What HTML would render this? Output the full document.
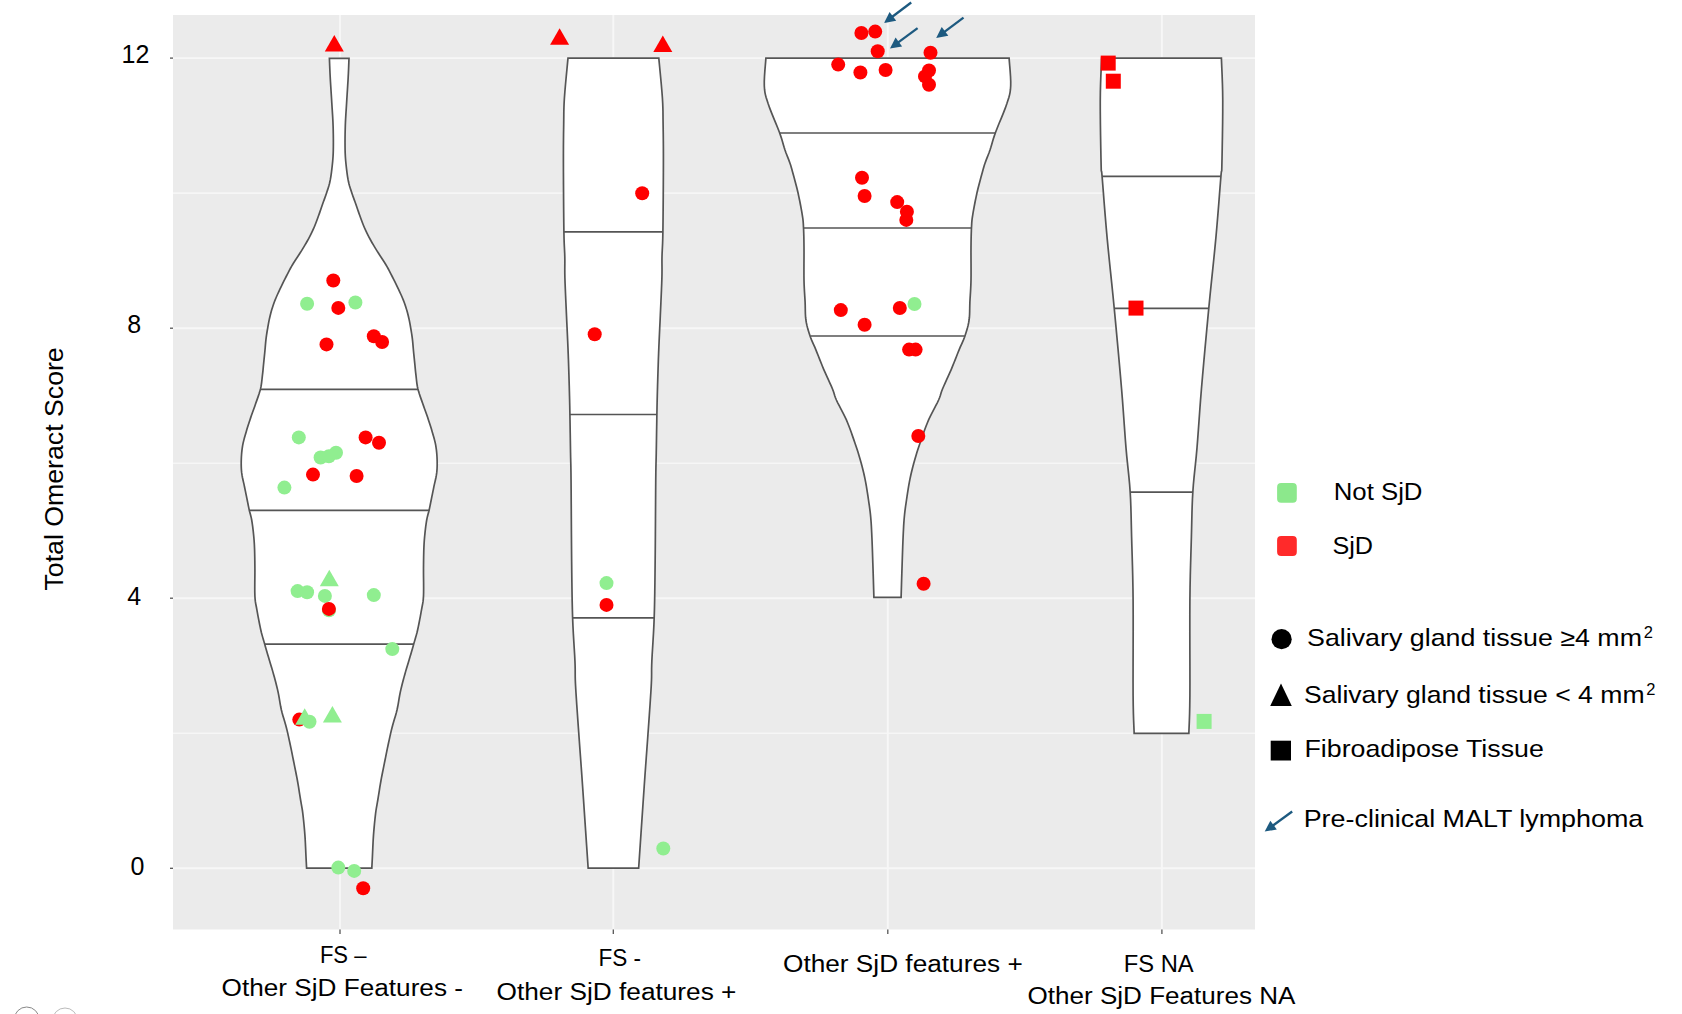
<!DOCTYPE html>
<html><head><meta charset="utf-8"><style>
html,body{margin:0;padding:0;background:#fff;width:1682px;height:1014px;overflow:hidden;}
svg{display:block;font-family:"Liberation Sans", sans-serif;}
text{fill:#000;}
</style></head><body>
<svg width="1682" height="1014" viewBox="0 0 1682 1014">
<rect x="173" y="15" width="1082" height="914.5" fill="#EBEBEB"/>
<line x1="173" y1="733.27" x2="1255" y2="733.27" stroke="#F6F6F6" stroke-width="1.6"/>
<line x1="173" y1="463.20" x2="1255" y2="463.20" stroke="#F6F6F6" stroke-width="1.6"/>
<line x1="173" y1="193.13" x2="1255" y2="193.13" stroke="#F6F6F6" stroke-width="1.6"/>
<line x1="173" y1="58.1" x2="1255" y2="58.1" stroke="#F7F7F7" stroke-width="1.9"/>
<line x1="173" y1="328.2" x2="1255" y2="328.2" stroke="#F7F7F7" stroke-width="1.9"/>
<line x1="173" y1="598.2" x2="1255" y2="598.2" stroke="#F7F7F7" stroke-width="1.9"/>
<line x1="173" y1="868.3" x2="1255" y2="868.3" stroke="#F7F7F7" stroke-width="1.9"/>
<line x1="340" y1="15" x2="340" y2="929.5" stroke="#F7F7F7" stroke-width="1.9"/>
<line x1="613.3" y1="15" x2="613.3" y2="929.5" stroke="#F7F7F7" stroke-width="1.9"/>
<line x1="887.8" y1="15" x2="887.8" y2="929.5" stroke="#F7F7F7" stroke-width="1.9"/>
<line x1="1161.9" y1="15" x2="1161.9" y2="929.5" stroke="#F7F7F7" stroke-width="1.9"/>
<line x1="170" y1="58.1" x2="173" y2="58.1" stroke="#555" stroke-width="1.3"/>
<line x1="170" y1="328.2" x2="173" y2="328.2" stroke="#555" stroke-width="1.3"/>
<line x1="170" y1="598.2" x2="173" y2="598.2" stroke="#555" stroke-width="1.3"/>
<line x1="170" y1="868.3" x2="173" y2="868.3" stroke="#555" stroke-width="1.3"/>
<line x1="340" y1="929.5" x2="340" y2="934" stroke="#555" stroke-width="1.3"/>
<line x1="613.3" y1="929.5" x2="613.3" y2="934" stroke="#555" stroke-width="1.3"/>
<line x1="887.8" y1="929.5" x2="887.8" y2="934" stroke="#555" stroke-width="1.3"/>
<line x1="1161.9" y1="929.5" x2="1161.9" y2="934" stroke="#555" stroke-width="1.3"/>
<path d="M329.40,58.30 L329.48,60.25 L329.58,62.88 L329.70,66.02 L329.84,69.53 L330.01,73.24 L330.20,77.00 L330.42,80.95 L330.69,85.24 L330.97,89.73 L331.26,94.29 L331.54,98.76 L331.80,103.00 L332.05,107.00 L332.30,110.85 L332.54,114.62 L332.76,118.37 L332.95,122.14 L333.10,126.00 L333.21,130.03 L333.30,134.22 L333.35,138.44 L333.37,142.56 L333.35,146.45 L333.30,150.00 L333.21,153.13 L333.07,155.93 L332.91,158.51 L332.70,160.98 L332.47,163.44 L332.20,166.00 L331.90,168.69 L331.57,171.43 L331.21,174.16 L330.81,176.83 L330.37,179.39 L329.90,181.80 L329.38,184.01 L328.82,186.06 L328.22,188.00 L327.59,189.89 L326.95,191.77 L326.30,193.70 L325.63,195.67 L324.94,197.64 L324.23,199.61 L323.51,201.57 L322.80,203.53 L322.10,205.50 L321.42,207.47 L320.75,209.43 L320.08,211.39 L319.41,213.36 L318.72,215.33 L318.00,217.30 L317.27,219.28 L316.53,221.26 L315.77,223.25 L314.99,225.24 L314.17,227.22 L313.30,229.20 L312.39,231.17 L311.44,233.14 L310.45,235.11 L309.43,237.07 L308.38,239.03 L307.30,241.00 L306.19,242.97 L305.04,244.93 L303.86,246.89 L302.65,248.86 L301.43,250.83 L300.20,252.80 L298.94,254.78 L297.63,256.76 L296.30,258.75 L294.99,260.74 L293.71,262.72 L292.50,264.70 L291.38,266.63 L290.34,268.51 L289.34,270.39 L288.34,272.31 L287.30,274.33 L286.20,276.50 L284.99,278.89 L283.70,281.47 L282.37,284.14 L281.06,286.82 L279.82,289.41 L278.70,291.80 L277.70,293.98 L276.79,296.02 L275.95,297.97 L275.16,299.87 L274.42,301.76 L273.70,303.70 L273.02,305.67 L272.38,307.64 L271.79,309.61 L271.23,311.57 L270.70,313.53 L270.20,315.50 L269.73,317.47 L269.30,319.43 L268.89,321.39 L268.51,323.36 L268.15,325.33 L267.80,327.30 L267.46,329.28 L267.13,331.26 L266.82,333.25 L266.53,335.24 L266.25,337.22 L266.00,339.20 L265.78,341.17 L265.59,343.14 L265.41,345.11 L265.25,347.07 L265.08,349.03 L264.90,351.00 L264.71,352.97 L264.51,354.93 L264.31,356.89 L264.10,358.86 L263.90,360.83 L263.70,362.80 L263.51,364.75 L263.33,366.67 L263.15,368.60 L262.96,370.56 L262.75,372.58 L262.50,374.70 L262.25,376.93 L262.00,379.24 L261.73,381.61 L261.41,384.03 L261.01,386.47 L260.50,388.90 L259.85,391.36 L259.08,393.86 L258.23,396.37 L257.34,398.89 L256.45,401.37 L255.60,403.80 L254.78,406.16 L253.95,408.48 L253.12,410.77 L252.30,413.04 L251.49,415.31 L250.70,417.60 L249.93,419.90 L249.17,422.20 L248.42,424.50 L247.69,426.80 L246.98,429.10 L246.30,431.40 L245.63,433.70 L244.96,436.00 L244.31,438.29 L243.71,440.59 L243.16,442.89 L242.70,445.20 L242.32,447.51 L242.00,449.83 L241.75,452.15 L241.55,454.47 L241.40,456.79 L241.30,459.10 L241.23,461.41 L241.21,463.71 L241.24,466.01 L241.32,468.30 L241.47,470.60 L241.70,472.90 L242.03,475.20 L242.46,477.50 L242.95,479.80 L243.48,482.10 L244.01,484.40 L244.50,486.70 L244.98,489.05 L245.46,491.45 L245.95,493.86 L246.43,496.20 L246.88,498.44 L247.30,500.50 L247.68,502.35 L248.01,504.03 L248.32,505.60 L248.63,507.11 L248.95,508.62 L249.30,510.20 L249.68,511.78 L250.09,513.31 L250.51,514.84 L250.93,516.43 L251.33,518.13 L251.70,520.00 L252.04,522.07 L252.37,524.30 L252.69,526.65 L252.98,529.05 L253.25,531.45 L253.50,533.80 L253.72,536.02 L253.91,538.14 L254.09,540.27 L254.24,542.49 L254.38,544.90 L254.50,547.60 L254.61,550.57 L254.69,553.73 L254.76,557.08 L254.82,560.63 L254.86,564.37 L254.90,568.30 L254.90,572.67 L254.86,577.53 L254.80,582.58 L254.77,587.54 L254.79,592.11 L254.90,596.00 L255.10,599.03 L255.35,601.39 L255.66,603.37 L256.02,605.24 L256.43,607.29 L256.90,609.80 L257.44,612.87 L258.06,616.30 L258.74,619.90 L259.44,623.50 L260.13,626.93 L260.80,630.00 L261.44,632.68 L262.08,635.11 L262.71,637.36 L263.34,639.51 L263.97,641.63 L264.60,643.80 L265.20,645.93 L265.78,647.96 L266.36,649.95 L266.95,652.00 L267.59,654.19 L268.30,656.60 L269.10,659.28 L269.98,662.17 L270.90,665.19 L271.83,668.29 L272.74,671.38 L273.60,674.40 L274.41,677.35 L275.20,680.30 L275.98,683.24 L276.72,686.19 L277.43,689.14 L278.10,692.10 L278.70,695.07 L279.23,698.06 L279.72,701.05 L280.22,704.04 L280.77,707.03 L281.40,710.00 L282.15,712.96 L282.98,715.91 L283.86,718.86 L284.74,721.80 L285.60,724.75 L286.40,727.70 L287.13,730.66 L287.82,733.63 L288.49,736.60 L289.13,739.57 L289.77,742.54 L290.40,745.50 L291.02,748.45 L291.63,751.40 L292.23,754.35 L292.82,757.30 L293.41,760.25 L294.00,763.20 L294.59,766.15 L295.19,769.08 L295.78,772.02 L296.37,774.97 L296.94,777.96 L297.50,781.00 L298.05,784.16 L298.60,787.45 L299.13,790.78 L299.65,794.04 L300.14,797.14 L300.60,800.00 L301.02,802.46 L301.40,804.57 L301.76,806.53 L302.11,808.53 L302.45,810.75 L302.80,813.40 L303.17,816.54 L303.54,820.02 L303.92,823.73 L304.28,827.56 L304.61,831.39 L304.90,835.10 L305.15,838.84 L305.36,842.71 L305.54,846.59 L305.71,850.33 L305.86,853.78 L306.00,856.80 L306.14,859.43 L306.26,861.79 L306.37,863.86 L306.46,865.63 L306.54,867.08 L306.60,868.20 L371.80,868.20 L371.86,867.08 L371.94,865.63 L372.03,863.86 L372.14,861.79 L372.26,859.43 L372.40,856.80 L372.54,853.78 L372.69,850.33 L372.86,846.59 L373.04,842.71 L373.25,838.84 L373.50,835.10 L373.79,831.39 L374.12,827.56 L374.48,823.73 L374.86,820.02 L375.23,816.54 L375.60,813.40 L375.95,810.75 L376.29,808.53 L376.64,806.53 L377.00,804.57 L377.38,802.46 L377.80,800.00 L378.26,797.14 L378.75,794.04 L379.27,790.78 L379.80,787.45 L380.35,784.16 L380.90,781.00 L381.46,777.96 L382.03,774.97 L382.62,772.02 L383.21,769.08 L383.81,766.15 L384.40,763.20 L384.99,760.25 L385.58,757.30 L386.17,754.35 L386.77,751.40 L387.38,748.45 L388.00,745.50 L388.63,742.54 L389.27,739.57 L389.91,736.60 L390.58,733.63 L391.27,730.66 L392.00,727.70 L392.80,724.75 L393.66,721.80 L394.54,718.86 L395.42,715.91 L396.25,712.96 L397.00,710.00 L397.63,707.03 L398.18,704.04 L398.68,701.05 L399.17,698.06 L399.70,695.07 L400.30,692.10 L400.97,689.14 L401.68,686.19 L402.42,683.24 L403.20,680.30 L403.99,677.35 L404.80,674.40 L405.66,671.38 L406.57,668.29 L407.50,665.19 L408.42,662.17 L409.30,659.28 L410.10,656.60 L410.81,654.19 L411.45,652.00 L412.04,649.95 L412.62,647.96 L413.20,645.93 L413.80,643.80 L414.43,641.63 L415.06,639.51 L415.69,637.36 L416.32,635.11 L416.96,632.68 L417.60,630.00 L418.27,626.93 L418.96,623.50 L419.66,619.90 L420.34,616.30 L420.96,612.87 L421.50,609.80 L421.97,607.29 L422.38,605.24 L422.74,603.37 L423.05,601.39 L423.30,599.03 L423.50,596.00 L423.61,592.11 L423.63,587.54 L423.60,582.58 L423.54,577.53 L423.50,572.67 L423.50,568.30 L423.54,564.37 L423.58,560.63 L423.64,557.08 L423.71,553.73 L423.79,550.57 L423.90,547.60 L424.02,544.90 L424.16,542.49 L424.31,540.27 L424.49,538.14 L424.68,536.02 L424.90,533.80 L425.15,531.45 L425.42,529.05 L425.71,526.65 L426.03,524.30 L426.36,522.07 L426.70,520.00 L427.07,518.13 L427.47,516.43 L427.89,514.84 L428.31,513.31 L428.72,511.78 L429.10,510.20 L429.45,508.62 L429.77,507.11 L430.07,505.60 L430.39,504.03 L430.72,502.35 L431.10,500.50 L431.52,498.44 L431.97,496.20 L432.45,493.86 L432.94,491.45 L433.42,489.05 L433.90,486.70 L434.39,484.40 L434.92,482.10 L435.45,479.80 L435.94,477.50 L436.37,475.20 L436.70,472.90 L436.93,470.60 L437.08,468.30 L437.16,466.01 L437.19,463.71 L437.17,461.41 L437.10,459.10 L437.00,456.79 L436.85,454.47 L436.65,452.15 L436.40,449.83 L436.08,447.51 L435.70,445.20 L435.24,442.89 L434.69,440.59 L434.09,438.29 L433.44,436.00 L432.77,433.70 L432.10,431.40 L431.42,429.10 L430.71,426.80 L429.98,424.50 L429.23,422.20 L428.47,419.90 L427.70,417.60 L426.91,415.31 L426.10,413.04 L425.28,410.77 L424.45,408.48 L423.62,406.16 L422.80,403.80 L421.95,401.37 L421.06,398.89 L420.17,396.37 L419.32,393.86 L418.55,391.36 L417.90,388.90 L417.39,386.47 L416.99,384.03 L416.67,381.61 L416.40,379.24 L416.15,376.93 L415.90,374.70 L415.65,372.58 L415.44,370.56 L415.25,368.60 L415.07,366.67 L414.89,364.75 L414.70,362.80 L414.50,360.83 L414.30,358.86 L414.09,356.89 L413.89,354.93 L413.69,352.97 L413.50,351.00 L413.32,349.03 L413.15,347.07 L412.99,345.11 L412.81,343.14 L412.62,341.17 L412.40,339.20 L412.15,337.22 L411.87,335.24 L411.58,333.25 L411.27,331.26 L410.94,329.28 L410.60,327.30 L410.25,325.33 L409.89,323.36 L409.51,321.39 L409.10,319.43 L408.67,317.47 L408.20,315.50 L407.70,313.53 L407.17,311.57 L406.61,309.61 L406.02,307.64 L405.38,305.67 L404.70,303.70 L403.98,301.76 L403.24,299.87 L402.45,297.97 L401.61,296.02 L400.70,293.98 L399.70,291.80 L398.58,289.41 L397.34,286.82 L396.03,284.14 L394.70,281.47 L393.41,278.89 L392.20,276.50 L391.10,274.33 L390.06,272.31 L389.06,270.39 L388.06,268.51 L387.02,266.63 L385.90,264.70 L384.69,262.72 L383.41,260.74 L382.10,258.75 L380.77,256.76 L379.46,254.78 L378.20,252.80 L376.97,250.83 L375.75,248.86 L374.54,246.89 L373.36,244.93 L372.21,242.97 L371.10,241.00 L370.02,239.03 L368.97,237.07 L367.95,235.11 L366.96,233.14 L366.01,231.17 L365.10,229.20 L364.23,227.22 L363.41,225.24 L362.63,223.25 L361.87,221.26 L361.13,219.28 L360.40,217.30 L359.68,215.33 L358.99,213.36 L358.32,211.39 L357.65,209.43 L356.98,207.47 L356.30,205.50 L355.60,203.53 L354.89,201.57 L354.17,199.61 L353.46,197.64 L352.77,195.67 L352.10,193.70 L351.45,191.77 L350.81,189.89 L350.18,188.00 L349.58,186.06 L349.02,184.01 L348.50,181.80 L348.03,179.39 L347.59,176.83 L347.19,174.16 L346.83,171.43 L346.50,168.69 L346.20,166.00 L345.93,163.44 L345.70,160.98 L345.49,158.51 L345.33,155.93 L345.19,153.13 L345.10,150.00 L345.05,146.45 L345.03,142.56 L345.05,138.44 L345.10,134.22 L345.19,130.03 L345.30,126.00 L345.45,122.14 L345.64,118.37 L345.86,114.62 L346.10,110.85 L346.35,107.00 L346.60,103.00 L346.86,98.76 L347.14,94.29 L347.43,89.73 L347.71,85.24 L347.98,80.95 L348.20,77.00 L348.39,73.24 L348.56,69.53 L348.70,66.02 L348.82,62.88 L348.92,60.25 L349.00,58.30 Z" fill="#FFFFFF" stroke="#555555" stroke-width="1.7" stroke-linejoin="miter"/>
<line x1="260.37" y1="389.3" x2="418.03" y2="389.3" stroke="#555555" stroke-width="1.7"/>
<line x1="249.32" y1="510.3" x2="429.08" y2="510.3" stroke="#555555" stroke-width="1.7"/>
<line x1="264.72" y1="644.2" x2="413.68" y2="644.2" stroke="#555555" stroke-width="1.7"/>
<path d="M568.00,58.20 L567.57,62.69 L566.96,69.03 L566.24,76.48 L565.52,84.28 L564.87,91.70 L564.40,98.00 L564.11,102.99 L563.94,107.24 L563.84,111.11 L563.80,114.96 L563.76,119.13 L563.70,124.00 L563.62,129.28 L563.54,134.61 L563.48,140.29 L563.43,146.56 L563.40,153.71 L563.40,162.00 L563.43,172.26 L563.49,184.44 L563.57,197.49 L563.67,210.37 L563.78,222.02 L563.90,231.40 L564.04,238.22 L564.20,243.25 L564.38,247.06 L564.54,250.20 L564.69,253.23 L564.80,256.70 L564.85,260.28 L564.84,263.46 L564.81,266.52 L564.79,269.76 L564.81,273.45 L564.90,277.90 L565.08,283.24 L565.32,289.27 L565.60,295.76 L565.90,302.48 L566.21,309.20 L566.50,315.70 L566.78,322.01 L567.08,328.33 L567.38,334.64 L567.67,340.96 L567.94,347.28 L568.20,353.60 L568.44,360.09 L568.66,366.80 L568.88,373.51 L569.07,380.01 L569.25,386.07 L569.40,391.50 L569.52,395.95 L569.61,399.53 L569.68,402.68 L569.75,405.85 L569.82,409.47 L569.90,414.00 L570.00,419.68 L570.11,426.22 L570.23,433.22 L570.34,440.28 L570.45,447.00 L570.55,453.00 L570.64,457.56 L570.72,460.86 L570.80,463.82 L570.88,467.39 L570.96,472.47 L571.05,480.00 L571.14,490.77 L571.23,504.18 L571.32,519.11 L571.42,534.44 L571.53,549.05 L571.65,561.80 L571.77,572.72 L571.89,582.72 L572.02,591.99 L572.17,600.73 L572.36,609.13 L572.60,617.40 L572.93,625.65 L573.35,633.73 L573.81,641.49 L574.26,648.73 L574.66,655.30 L574.95,661.00 L575.11,665.58 L575.19,669.12 L575.20,671.98 L575.20,674.50 L575.22,677.06 L575.30,680.00 L575.43,683.11 L575.58,686.06 L575.75,689.04 L575.94,692.23 L576.18,695.82 L576.45,700.00 L576.76,704.70 L577.11,709.74 L577.49,715.19 L577.90,721.09 L578.36,727.48 L578.85,734.40 L579.38,741.72 L579.93,749.36 L580.53,757.49 L581.17,766.29 L581.86,775.90 L582.60,786.50 L583.49,799.35 L584.52,814.57 L585.61,830.61 L586.64,845.92 L587.53,858.97 L588.15,868.20 L638.65,868.20 L639.27,858.97 L640.16,845.92 L641.19,830.61 L642.28,814.57 L643.31,799.35 L644.20,786.50 L644.94,775.90 L645.63,766.29 L646.27,757.49 L646.87,749.36 L647.42,741.72 L647.95,734.40 L648.44,727.48 L648.90,721.09 L649.31,715.19 L649.69,709.74 L650.04,704.70 L650.35,700.00 L650.62,695.82 L650.86,692.23 L651.05,689.04 L651.22,686.06 L651.37,683.11 L651.50,680.00 L651.58,677.06 L651.60,674.50 L651.60,671.98 L651.61,669.12 L651.69,665.58 L651.85,661.00 L652.14,655.30 L652.54,648.73 L652.99,641.49 L653.45,633.73 L653.87,625.65 L654.20,617.40 L654.44,609.13 L654.63,600.73 L654.78,591.99 L654.91,582.72 L655.03,572.72 L655.15,561.80 L655.27,549.05 L655.38,534.44 L655.48,519.11 L655.57,504.18 L655.66,490.77 L655.75,480.00 L655.84,472.47 L655.92,467.39 L656.00,463.82 L656.08,460.86 L656.16,457.56 L656.25,453.00 L656.35,447.00 L656.46,440.28 L656.57,433.22 L656.69,426.22 L656.80,419.68 L656.90,414.00 L656.98,409.47 L657.05,405.85 L657.12,402.68 L657.19,399.53 L657.28,395.95 L657.40,391.50 L657.55,386.07 L657.73,380.01 L657.92,373.51 L658.14,366.80 L658.36,360.09 L658.60,353.60 L658.86,347.28 L659.13,340.96 L659.42,334.64 L659.72,328.33 L660.02,322.01 L660.30,315.70 L660.59,309.20 L660.90,302.48 L661.20,295.76 L661.48,289.27 L661.72,283.24 L661.90,277.90 L661.99,273.45 L662.01,269.76 L661.99,266.52 L661.96,263.46 L661.95,260.28 L662.00,256.70 L662.11,253.23 L662.26,250.20 L662.42,247.06 L662.60,243.25 L662.76,238.22 L662.90,231.40 L663.02,222.02 L663.13,210.37 L663.23,197.49 L663.31,184.44 L663.37,172.26 L663.40,162.00 L663.40,153.71 L663.37,146.56 L663.32,140.29 L663.26,134.61 L663.18,129.28 L663.10,124.00 L663.04,119.13 L663.00,114.96 L662.96,111.11 L662.86,107.24 L662.69,102.99 L662.40,98.00 L661.93,91.70 L661.28,84.28 L660.56,76.48 L659.84,69.03 L659.23,62.69 L658.80,58.20 Z" fill="#FFFFFF" stroke="#555555" stroke-width="1.7" stroke-linejoin="miter"/>
<line x1="563.92" y1="231.9" x2="662.88" y2="231.9" stroke="#555555" stroke-width="1.7"/>
<line x1="569.91" y1="414.5" x2="656.89" y2="414.5" stroke="#555555" stroke-width="1.7"/>
<line x1="572.63" y1="617.9" x2="654.17" y2="617.9" stroke="#555555" stroke-width="1.7"/>
<path d="M765.90,58.20 L765.66,61.32 L765.29,65.72 L764.86,70.89 L764.49,76.30 L764.27,81.45 L764.30,85.80 L764.53,89.21 L764.89,92.05 L765.39,94.62 L766.07,97.21 L766.96,100.10 L768.10,103.60 L769.63,107.91 L771.56,112.83 L773.69,118.07 L775.86,123.30 L777.85,128.21 L779.50,132.50 L780.77,136.13 L781.80,139.36 L782.66,142.26 L783.44,144.94 L784.19,147.49 L785.00,150.00 L785.86,152.44 L786.73,154.73 L787.58,156.88 L788.38,158.92 L789.13,160.85 L789.80,162.70 L790.34,164.27 L790.75,165.53 L791.11,166.68 L791.47,167.94 L791.91,169.54 L792.50,171.70 L793.27,174.50 L794.17,177.79 L795.15,181.42 L796.15,185.23 L797.12,189.07 L798.00,192.80 L798.82,196.56 L799.64,200.51 L800.42,204.49 L801.14,208.36 L801.78,211.94 L802.30,215.10 L802.69,217.65 L802.96,219.68 L803.14,221.44 L803.27,223.16 L803.38,225.10 L803.50,227.50 L803.63,230.26 L803.74,233.17 L803.83,236.29 L803.90,239.69 L803.95,243.44 L804.00,247.60 L804.02,252.44 L804.00,257.94 L803.96,263.80 L803.94,269.68 L803.94,275.25 L804.00,280.20 L804.12,284.49 L804.30,288.37 L804.50,291.96 L804.71,295.34 L804.92,298.62 L805.10,301.90 L805.21,305.16 L805.27,308.30 L805.32,311.34 L805.41,314.29 L805.58,317.18 L805.90,320.00 L806.36,322.75 L806.93,325.41 L807.58,328.00 L808.31,330.53 L809.09,333.03 L809.90,335.50 L810.75,337.87 L811.65,340.10 L812.61,342.29 L813.61,344.54 L814.68,346.94 L815.80,349.60 L816.99,352.56 L818.25,355.75 L819.57,359.10 L820.93,362.53 L822.31,365.95 L823.70,369.30 L825.17,372.68 L826.75,376.19 L828.35,379.69 L829.90,383.08 L831.31,386.22 L832.50,389.00 L833.36,391.24 L833.94,392.99 L834.38,394.50 L834.84,396.01 L835.46,397.76 L836.40,400.00 L837.73,402.78 L839.35,405.92 L841.13,409.31 L842.96,412.81 L844.73,416.32 L846.30,419.70 L847.69,422.98 L848.99,426.26 L850.22,429.54 L851.40,432.83 L852.55,436.11 L853.70,439.40 L854.84,442.70 L855.96,446.00 L857.06,449.30 L858.11,452.60 L859.13,455.90 L860.10,459.20 L861.02,462.47 L861.90,465.72 L862.73,468.97 L863.53,472.23 L864.28,475.54 L865.00,478.90 L865.68,482.38 L866.32,485.97 L866.92,489.61 L867.48,493.20 L868.01,496.69 L868.50,500.00 L868.95,503.06 L869.37,505.91 L869.74,508.66 L870.09,511.40 L870.41,514.21 L870.70,517.20 L870.96,520.26 L871.18,523.29 L871.37,526.40 L871.54,529.70 L871.72,533.30 L871.90,537.30 L872.09,541.83 L872.28,546.83 L872.47,552.13 L872.65,557.56 L872.83,562.94 L873.00,568.10 L873.17,573.40 L873.35,579.03 L873.52,584.62 L873.67,589.79 L873.80,594.14 L873.90,597.30 L901.10,597.30 L901.20,594.14 L901.33,589.79 L901.48,584.62 L901.65,579.03 L901.83,573.40 L902.00,568.10 L902.17,562.94 L902.35,557.56 L902.53,552.13 L902.72,546.83 L902.91,541.83 L903.10,537.30 L903.28,533.30 L903.46,529.70 L903.63,526.40 L903.82,523.29 L904.04,520.26 L904.30,517.20 L904.59,514.21 L904.91,511.40 L905.26,508.66 L905.63,505.91 L906.05,503.06 L906.50,500.00 L906.99,496.69 L907.52,493.20 L908.08,489.61 L908.68,485.97 L909.32,482.38 L910.00,478.90 L910.72,475.54 L911.47,472.23 L912.27,468.97 L913.10,465.72 L913.98,462.47 L914.90,459.20 L915.87,455.90 L916.89,452.60 L917.94,449.30 L919.04,446.00 L920.16,442.70 L921.30,439.40 L922.45,436.11 L923.60,432.83 L924.78,429.54 L926.01,426.26 L927.31,422.98 L928.70,419.70 L930.27,416.32 L932.04,412.81 L933.87,409.31 L935.65,405.92 L937.27,402.78 L938.60,400.00 L939.54,397.76 L940.16,396.01 L940.62,394.50 L941.06,392.99 L941.64,391.24 L942.50,389.00 L943.69,386.22 L945.10,383.08 L946.65,379.69 L948.25,376.19 L949.83,372.68 L951.30,369.30 L952.69,365.95 L954.07,362.53 L955.43,359.10 L956.75,355.75 L958.01,352.56 L959.20,349.60 L960.32,346.94 L961.39,344.54 L962.39,342.29 L963.35,340.10 L964.25,337.87 L965.10,335.50 L965.91,333.03 L966.69,330.53 L967.42,328.00 L968.07,325.41 L968.64,322.75 L969.10,320.00 L969.42,317.18 L969.59,314.29 L969.68,311.34 L969.73,308.30 L969.79,305.16 L969.90,301.90 L970.08,298.62 L970.29,295.34 L970.50,291.96 L970.70,288.37 L970.88,284.49 L971.00,280.20 L971.06,275.25 L971.06,269.68 L971.04,263.80 L971.00,257.94 L970.98,252.44 L971.00,247.60 L971.05,243.44 L971.10,239.69 L971.17,236.29 L971.26,233.17 L971.37,230.26 L971.50,227.50 L971.62,225.10 L971.73,223.16 L971.86,221.44 L972.04,219.68 L972.31,217.65 L972.70,215.10 L973.22,211.94 L973.86,208.36 L974.58,204.49 L975.36,200.51 L976.18,196.56 L977.00,192.80 L977.88,189.07 L978.85,185.23 L979.85,181.42 L980.83,177.79 L981.73,174.50 L982.50,171.70 L983.09,169.54 L983.53,167.94 L983.89,166.68 L984.25,165.53 L984.66,164.27 L985.20,162.70 L985.87,160.85 L986.62,158.92 L987.42,156.88 L988.27,154.73 L989.14,152.44 L990.00,150.00 L990.81,147.49 L991.56,144.94 L992.34,142.26 L993.20,139.36 L994.23,136.13 L995.50,132.50 L997.15,128.21 L999.14,123.30 L1001.31,118.07 L1003.44,112.83 L1005.37,107.91 L1006.90,103.60 L1008.04,100.10 L1008.93,97.21 L1009.61,94.62 L1010.11,92.05 L1010.47,89.21 L1010.70,85.80 L1010.73,81.45 L1010.51,76.30 L1010.14,70.89 L1009.71,65.72 L1009.34,61.32 L1009.10,58.20 Z" fill="#FFFFFF" stroke="#555555" stroke-width="1.7" stroke-linejoin="miter"/>
<line x1="779.66" y1="133.0" x2="995.34" y2="133.0" stroke="#555555" stroke-width="1.7"/>
<line x1="803.51" y1="228.0" x2="971.49" y2="228.0" stroke="#555555" stroke-width="1.7"/>
<line x1="810.11" y1="336.0" x2="964.89" y2="336.0" stroke="#555555" stroke-width="1.7"/>
<path d="M1101.60,58.20 L1101.43,62.60 L1101.17,68.47 L1100.87,75.54 L1100.58,83.50 L1100.36,92.09 L1100.25,101.00 L1100.27,111.19 L1100.38,123.06 L1100.56,135.56 L1100.77,147.59 L1100.97,158.10 L1101.15,166.00 L1101.25,170.24 L1101.30,171.48 L1101.34,171.19 L1101.45,170.84 L1101.66,171.92 L1102.05,175.90 L1102.62,183.02 L1103.34,192.16 L1104.16,202.72 L1105.08,214.12 L1106.05,225.77 L1107.05,237.10 L1108.11,248.17 L1109.25,259.48 L1110.45,271.04 L1111.68,282.89 L1112.92,295.03 L1114.15,307.50 L1115.40,320.68 L1116.70,334.61 L1118.02,348.86 L1119.29,362.94 L1120.48,376.41 L1121.55,388.80 L1122.47,400.11 L1123.26,410.71 L1123.98,420.69 L1124.65,430.16 L1125.31,439.19 L1126.00,447.90 L1126.74,456.07 L1127.51,463.59 L1128.26,470.68 L1128.98,477.58 L1129.62,484.51 L1130.15,491.70 L1130.55,498.92 L1130.83,505.93 L1131.04,512.98 L1131.21,520.30 L1131.39,528.13 L1131.60,536.70 L1131.86,545.82 L1132.15,555.26 L1132.44,565.20 L1132.71,575.84 L1132.94,587.38 L1133.10,600.00 L1133.17,614.71 L1133.17,631.55 L1133.13,649.29 L1133.08,666.67 L1133.06,682.46 L1133.10,695.40 L1133.23,705.48 L1133.41,713.70 L1133.62,720.31 L1133.84,725.60 L1134.02,729.84 L1134.15,733.30 L1188.85,733.30 L1188.98,729.84 L1189.16,725.60 L1189.38,720.31 L1189.59,713.70 L1189.77,705.48 L1189.90,695.40 L1189.94,682.46 L1189.92,666.67 L1189.87,649.29 L1189.83,631.55 L1189.83,614.71 L1189.90,600.00 L1190.06,587.38 L1190.29,575.84 L1190.56,565.20 L1190.85,555.26 L1191.14,545.82 L1191.40,536.70 L1191.61,528.13 L1191.79,520.30 L1191.96,512.98 L1192.17,505.93 L1192.45,498.92 L1192.85,491.70 L1193.38,484.51 L1194.02,477.58 L1194.74,470.68 L1195.49,463.59 L1196.26,456.07 L1197.00,447.90 L1197.69,439.19 L1198.35,430.16 L1199.02,420.69 L1199.74,410.71 L1200.53,400.11 L1201.45,388.80 L1202.52,376.41 L1203.71,362.94 L1204.98,348.86 L1206.30,334.61 L1207.60,320.68 L1208.85,307.50 L1210.08,295.03 L1211.32,282.89 L1212.55,271.04 L1213.75,259.48 L1214.89,248.17 L1215.95,237.10 L1216.95,225.77 L1217.92,214.12 L1218.84,202.72 L1219.66,192.16 L1220.38,183.02 L1220.95,175.90 L1221.34,171.92 L1221.55,170.84 L1221.66,171.19 L1221.70,171.48 L1221.75,170.24 L1221.85,166.00 L1222.03,158.10 L1222.23,147.59 L1222.44,135.56 L1222.62,123.06 L1222.73,111.19 L1222.75,101.00 L1222.64,92.09 L1222.42,83.50 L1222.13,75.54 L1221.83,68.47 L1221.57,62.60 L1221.40,58.20 Z" fill="#FFFFFF" stroke="#555555" stroke-width="1.7" stroke-linejoin="miter"/>
<line x1="1102.09" y1="176.4" x2="1220.91" y2="176.4" stroke="#555555" stroke-width="1.7"/>
<line x1="1114.22" y1="308.3" x2="1208.78" y2="308.3" stroke="#555555" stroke-width="1.7"/>
<line x1="1130.17" y1="492.2" x2="1192.83" y2="492.2" stroke="#555555" stroke-width="1.7"/>
<polygon points="334.30,34.95 343.80,51.45 324.80,51.45" fill="#FF0000"/>
<circle cx="333.3" cy="280.5" r="7.0" fill="#FF0000"/>
<circle cx="307.1" cy="303.7" r="7.0" fill="#90EE90"/>
<circle cx="338.3" cy="307.9" r="7.0" fill="#FF0000"/>
<circle cx="355.4" cy="302.5" r="7.0" fill="#90EE90"/>
<circle cx="326.5" cy="344.4" r="7.0" fill="#FF0000"/>
<circle cx="373.8" cy="336.3" r="7.0" fill="#FF0000"/>
<circle cx="382.1" cy="342" r="7.0" fill="#FF0000"/>
<circle cx="298.8" cy="437.4" r="7.0" fill="#90EE90"/>
<circle cx="365.6" cy="437.4" r="7.0" fill="#FF0000"/>
<circle cx="379" cy="442.8" r="7.0" fill="#FF0000"/>
<circle cx="320.6" cy="457.5" r="7.0" fill="#90EE90"/>
<circle cx="328.9" cy="456.3" r="7.0" fill="#90EE90"/>
<circle cx="336" cy="452.8" r="7.0" fill="#90EE90"/>
<circle cx="313" cy="474.6" r="7.0" fill="#FF0000"/>
<circle cx="356.6" cy="476" r="7.0" fill="#FF0000"/>
<circle cx="284.4" cy="487.6" r="7.0" fill="#90EE90"/>
<polygon points="329.30,569.75 338.80,586.25 319.80,586.25" fill="#90EE90"/>
<circle cx="297.6" cy="591.1" r="7.0" fill="#90EE90"/>
<circle cx="307.1" cy="592.3" r="7.0" fill="#90EE90"/>
<circle cx="324.9" cy="595.9" r="7.0" fill="#90EE90"/>
<circle cx="329" cy="610.3" r="7.0" fill="#90EE90"/>
<circle cx="328.9" cy="608.9" r="7.0" fill="#FF0000"/>
<circle cx="373.8" cy="595.1" r="7.0" fill="#90EE90"/>
<circle cx="392.3" cy="649.1" r="7.0" fill="#90EE90"/>
<circle cx="299.3" cy="719.6" r="7.0" fill="#FF0000"/>
<polygon points="304.70,708.35 314.20,724.85 295.20,724.85" fill="#90EE90"/>
<circle cx="309.5" cy="721.8" r="7.0" fill="#90EE90"/>
<polygon points="332.40,705.95 341.90,722.45 322.90,722.45" fill="#90EE90"/>
<circle cx="338.3" cy="867.6" r="7.0" fill="#90EE90"/>
<circle cx="354.2" cy="870.9" r="7.0" fill="#90EE90"/>
<circle cx="363.2" cy="888.2" r="7.0" fill="#FF0000"/>
<polygon points="559.60,28.35 569.10,44.85 550.10,44.85" fill="#FF0000"/>
<polygon points="662.80,35.45 672.30,51.95 653.30,51.95" fill="#FF0000"/>
<circle cx="642.2" cy="193.3" r="7.0" fill="#FF0000"/>
<circle cx="594.7" cy="334.2" r="7.0" fill="#FF0000"/>
<circle cx="606.5" cy="583.1" r="7.0" fill="#90EE90"/>
<circle cx="606.5" cy="604.9" r="7.0" fill="#FF0000"/>
<circle cx="663.3" cy="848.5" r="7.0" fill="#90EE90"/>
<circle cx="861.4" cy="33" r="7.0" fill="#FF0000"/>
<circle cx="875.2" cy="31.6" r="7.0" fill="#FF0000"/>
<circle cx="877.7" cy="51.3" r="7.0" fill="#FF0000"/>
<circle cx="930.5" cy="52.8" r="7.0" fill="#FF0000"/>
<circle cx="838.2" cy="64.6" r="7.0" fill="#FF0000"/>
<circle cx="860.4" cy="72.5" r="7.0" fill="#FF0000"/>
<circle cx="885.6" cy="70" r="7.0" fill="#FF0000"/>
<circle cx="929" cy="70.5" r="7.0" fill="#FF0000"/>
<circle cx="925" cy="76.4" r="7.0" fill="#FF0000"/>
<circle cx="929" cy="84.8" r="7.0" fill="#FF0000"/>
<circle cx="862" cy="177.8" r="7.0" fill="#FF0000"/>
<circle cx="864.6" cy="196" r="7.0" fill="#FF0000"/>
<circle cx="897.2" cy="202.1" r="7.0" fill="#FF0000"/>
<circle cx="906.9" cy="211.8" r="7.0" fill="#FF0000"/>
<circle cx="906.3" cy="219.9" r="7.0" fill="#FF0000"/>
<circle cx="840.8" cy="310.1" r="7.0" fill="#FF0000"/>
<circle cx="864.6" cy="324.7" r="7.0" fill="#FF0000"/>
<circle cx="899.8" cy="308" r="7.0" fill="#FF0000"/>
<circle cx="914.5" cy="304" r="7.0" fill="#90EE90"/>
<circle cx="909.1" cy="349.6" r="7.0" fill="#FF0000"/>
<circle cx="915.6" cy="349.6" r="7.0" fill="#FF0000"/>
<circle cx="918.3" cy="436" r="7.0" fill="#FF0000"/>
<circle cx="923.6" cy="583.7" r="7.0" fill="#FF0000"/>
<rect x="1100.70" y="55.60" width="15" height="15" fill="#FF0000"/>
<rect x="1105.80" y="73.70" width="15" height="15" fill="#FF0000"/>
<rect x="1128.50" y="300.60" width="15" height="15" fill="#FF0000"/>
<rect x="1196.60" y="713.90" width="15" height="15" fill="#90EE90"/>
<line x1="911.20" y1="2.50" x2="891.29" y2="17.49" stroke="#1D5A80" stroke-width="2.3"/><polygon points="884.10,22.90 889.58,11.89 896.20,20.68" fill="#1D5A80"/>
<line x1="917.60" y1="28.10" x2="897.24" y2="43.15" stroke="#1D5A80" stroke-width="2.3"/><polygon points="890.00,48.50 895.58,37.54 902.12,46.38" fill="#1D5A80"/>
<line x1="963.50" y1="17.60" x2="943.41" y2="32.61" stroke="#1D5A80" stroke-width="2.3"/><polygon points="936.20,38.00 941.72,27.01 948.30,35.82" fill="#1D5A80"/>
<text x="135.5" y="63" font-size="25" text-anchor="middle">12</text>
<text x="134.1" y="332.8" font-size="25" text-anchor="middle">8</text>
<text x="134.2" y="604.8" font-size="25" text-anchor="middle">4</text>
<text x="137.5" y="874.8" font-size="25" text-anchor="middle">0</text>
<text transform="translate(63,590.5) rotate(-90)" x="0" y="0" font-size="25.4" textLength="243.2" lengthAdjust="spacingAndGlyphs">Total Omeract Score</text>
<text x="319.9" y="963.3" font-size="23" text-anchor="start" textLength="46.6" lengthAdjust="spacingAndGlyphs">FS –</text>
<text x="221.6" y="996.3" font-size="23" text-anchor="start" textLength="241.4" lengthAdjust="spacingAndGlyphs">Other SjD Features -</text>
<text x="598.5" y="966.3" font-size="23" text-anchor="start" textLength="42.6" lengthAdjust="spacingAndGlyphs">FS -</text>
<text x="496.6" y="999.6" font-size="23" text-anchor="start" textLength="239.8" lengthAdjust="spacingAndGlyphs">Other SjD features +</text>
<text x="783" y="971.6" font-size="23" text-anchor="start" textLength="239.7" lengthAdjust="spacingAndGlyphs">Other SjD features +</text>
<text x="1123.8" y="971.6" font-size="23" text-anchor="start" textLength="69.9" lengthAdjust="spacingAndGlyphs">FS NA</text>
<text x="1027.5" y="1003.7" font-size="23" text-anchor="start" textLength="267.9" lengthAdjust="spacingAndGlyphs">Other SjD Features NA</text>
<rect x="1277.1" y="483" width="19.7" height="19.7" rx="4" fill="#8CE88C"/>
<rect x="1277.1" y="536" width="19.7" height="20" rx="4" fill="#FF2A2A"/>
<text x="1333.7" y="500.1" font-size="24.4" text-anchor="start" textLength="88.8" lengthAdjust="spacingAndGlyphs">Not SjD</text>
<text x="1332.4" y="553.9" font-size="24.4" text-anchor="start" textLength="40.6" lengthAdjust="spacingAndGlyphs">SjD</text>
<circle cx="1281.6" cy="639.2" r="10.1" fill="#000"/>
<text x="1307" y="645.5" font-size="24.4" text-anchor="start" textLength="335" lengthAdjust="spacingAndGlyphs">Salivary gland tissue ≥4 mm</text>
<text x="1643.8" y="638.2" font-size="16.5" text-anchor="start">2</text>
<polygon points="1281,683.6 1291.8,706 1270.2,706" fill="#000"/>
<text x="1304" y="702.6" font-size="24.4" text-anchor="start" textLength="340.6" lengthAdjust="spacingAndGlyphs">Salivary gland tissue &lt; 4 mm</text>
<text x="1646.2" y="695" font-size="16.5" text-anchor="start">2</text>
<rect x="1270.7" y="740.7" width="20.3" height="19.8" fill="#000"/>
<text x="1304.5" y="756.7" font-size="24.4" text-anchor="start" textLength="239.3" lengthAdjust="spacingAndGlyphs">Fibroadipose Tissue</text>
<line x1="1292.20" y1="811.50" x2="1271.97" y2="826.29" stroke="#1D5A80" stroke-width="2.3"/><polygon points="1264.70,831.60 1270.34,820.67 1276.83,829.55" fill="#1D5A80"/>
<text x="1303.7" y="827" font-size="24.4" text-anchor="start" textLength="339.6" lengthAdjust="spacingAndGlyphs">Pre-clinical MALT lymphoma</text>
<circle cx="26.7" cy="1019.5" r="12.5" fill="none" stroke="#888" stroke-width="1"/>
<circle cx="65" cy="1020.5" r="12.5" fill="none" stroke="#BBB" stroke-width="1"/>
</svg>
</body></html>
